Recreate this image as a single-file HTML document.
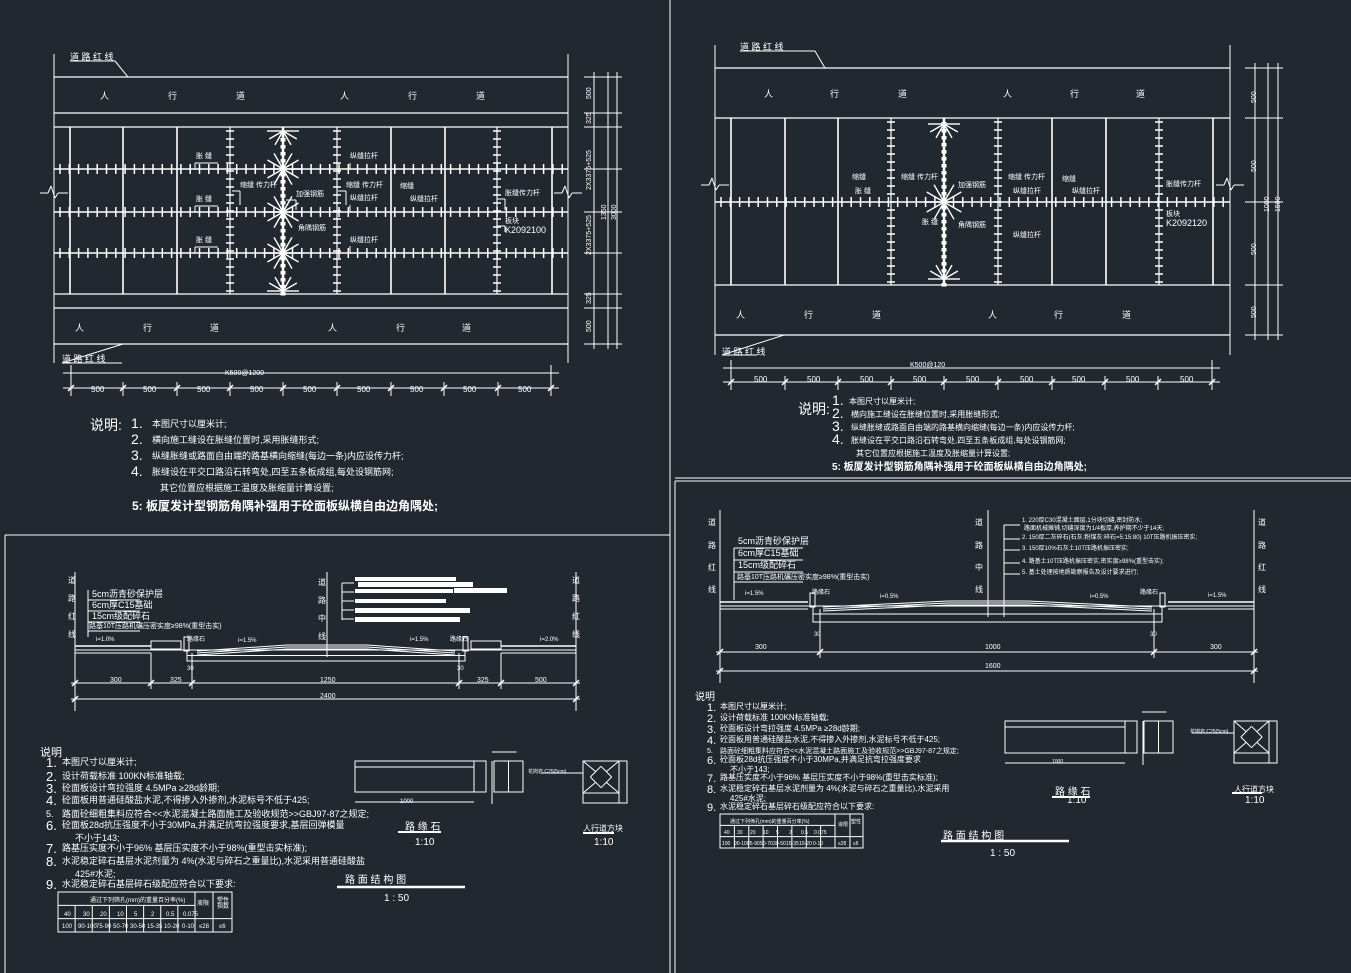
<!DOCTYPE html>
<html><head><meta charset="utf-8"><style>
html,body{margin:0;padding:0;background:#212830;}
svg{display:block}
text{fill:#fff;font-family:"Liberation Sans","Noto Sans CJK SC",sans-serif;}
.s{stroke:#fff;fill:none;stroke-width:1}
.b{stroke:#fff;fill:none;stroke-width:1.6}
</style></head><body>
<svg id="v" width="1351" height="973" viewBox="0 0 1351 973" xmlns="http://www.w3.org/2000/svg">
<g class="s">
<!-- frames -->
<line x1="670" y1="0" x2="670" y2="973"/>
<line x1="5" y1="535" x2="670" y2="535"/>
<line x1="5" y1="535" x2="5" y2="973"/>
<line x1="675" y1="478" x2="1351" y2="478"/>
<line x1="675" y1="481" x2="1351" y2="481"/>
<line x1="675" y1="481" x2="675" y2="973"/>
</g>
<g id="g" class="s"></g>

<!-- TOP LEFT text -->
<g font-size="9">
<text x="70" y="60">道 路 红 线</text>
<text x="62" y="362">道 路 红 线</text>
<text x="100" y="99">人</text><text x="168" y="99">行</text><text x="236" y="99">道</text>
<text x="340" y="99">人</text><text x="408" y="99">行</text><text x="476" y="99">道</text>
<text x="75" y="331">人</text><text x="143" y="331">行</text><text x="210" y="331">道</text>
<text x="328" y="331">人</text><text x="396" y="331">行</text><text x="462" y="331">道</text>
</g>
<g font-size="7">
<text x="196" y="158">胀 缝</text><text x="196" y="201">胀 缝</text><text x="196" y="242">胀 缝</text>
<text x="240" y="187">缩缝 传力杆</text><text x="346" y="187">缩缝 传力杆</text>
<text x="296" y="196">加强钢筋</text><text x="298" y="230">角隅钢筋</text>
<text x="350" y="158">纵缝拉杆</text><text x="350" y="200">纵缝拉杆</text><text x="350" y="242">纵缝拉杆</text>
<text x="400" y="188">缩缝</text><text x="410" y="201">纵缝拉杆</text>
<text x="505" y="195">胀缝传力杆</text>
<text x="505" y="223">板块</text><text x="505" y="233" font-size="9">K2092100</text>
<text x="225" y="375">K500@1200</text>
</g>
<g font-size="8">
<text x="91" y="392">500</text><text x="143" y="392">500</text><text x="197" y="392">500</text><text x="250" y="392">500</text><text x="303" y="392">500</text><text x="357" y="392">500</text><text x="410" y="392">500</text><text x="463" y="392">500</text><text x="518" y="392">500</text>
</g>
<g font-size="7">
<text transform="translate(591,99) rotate(-90)">500</text>
<text transform="translate(591,124) rotate(-90)">325</text>
<text transform="translate(591,190) rotate(-90)">2X3375+525</text>
<text transform="translate(591,255) rotate(-90)">2X3375+525</text>
<text transform="translate(591,304) rotate(-90)">325</text>
<text transform="translate(591,332) rotate(-90)">500</text>
<text transform="translate(606,220) rotate(-90)">1350</text>
<text transform="translate(616,220) rotate(-90)">3000</text>
</g>
<g font-size="14">
<text x="90" y="430">说明:</text>
<text x="131" y="428">1.</text><text x="131" y="444">2.</text><text x="131" y="460">3.</text><text x="131" y="476">4.</text>
</g>
<g font-size="9">
<text x="152" y="427">本图尺寸以厘米计;</text>
<text x="152" y="443">横向施工缝设在胀缝位置时,采用胀缝形式;</text>
<text x="152" y="459">纵缝胀缝或路面自由端的路基横向缩缝(每边一条)内应设传力杆;</text>
<text x="152" y="475">胀缝设在平交口路沿石转弯处,四至五条板成组,每处设钢筋网;</text>
<text x="160" y="491">其它位置应根据施工温度及胀缩量计算设置;</text>
</g>
<text x="132" y="510" font-size="12" font-weight="bold">5:  板厦发计型钢筋角隅补强用于砼面板纵横自由边角隅处;</text>

<!-- TOP RIGHT text -->
<g font-size="9">
<text x="740" y="50">道 路 红 线</text>
<text x="722" y="355">道 路 红 线</text>
<text x="764" y="97">人</text><text x="830" y="97">行</text><text x="898" y="97">道</text>
<text x="1003" y="97">人</text><text x="1070" y="97">行</text><text x="1136" y="97">道</text>
<text x="736" y="318">人</text><text x="804" y="318">行</text><text x="872" y="318">道</text>
<text x="988" y="318">人</text><text x="1054" y="318">行</text><text x="1122" y="318">道</text>
</g>
<g font-size="7">
<text x="852" y="179">缩缝</text><text x="855" y="193">胀 缝</text>
<text x="901" y="179">缩缝 传力杆</text><text x="958" y="187">加强钢筋</text>
<text x="922" y="224">胀 缝</text><text x="958" y="227">角隅钢筋</text>
<text x="1008" y="179">缩缝 传力杆</text><text x="1013" y="193">纵缝拉杆</text><text x="1013" y="237">纵缝拉杆</text>
<text x="1062" y="181">缩缝</text><text x="1072" y="193">纵缝拉杆</text>
<text x="1166" y="186">胀缝传力杆</text>
<text x="1166" y="216">板块</text><text x="1166" y="226" font-size="9">K2092120</text>
<text x="910" y="367">K500@120</text>
</g>
<g font-size="8">
<text x="754" y="382">500</text><text x="807" y="382">500</text><text x="860" y="382">500</text><text x="913" y="382">500</text><text x="966" y="382">500</text><text x="1020" y="382">500</text><text x="1072" y="382">500</text><text x="1126" y="382">500</text><text x="1180" y="382">500</text>
</g>
<g font-size="7">
<text transform="translate(1256,103) rotate(-90)">500</text>
<text transform="translate(1256,172) rotate(-90)">500</text>
<text transform="translate(1256,255) rotate(-90)">500</text>
<text transform="translate(1256,318) rotate(-90)">500</text>
<text transform="translate(1269,212) rotate(-90)">1000</text>
<text transform="translate(1280,212) rotate(-90)">1500</text>
</g>
<g font-size="14">
<text x="798" y="414">说明:</text>
<text x="832" y="405">1.</text><text x="832" y="418">2.</text><text x="832" y="431">3.</text><text x="832" y="444">4.</text>
</g>
<g font-size="8">
<text x="849" y="404">本图尺寸以厘米计;</text>
<text x="851" y="417">横向施工缝设在胀缝位置时,采用胀缝形式;</text>
<text x="851" y="430">纵缝胀缝或路面自由端的路基横向缩缝(每边一条)内应设传力杆;</text>
<text x="851" y="443">胀缝设在平交口路沿石转弯处,四至五条板成组,每处设钢筋网;</text>
<text x="856" y="456">其它位置应根据施工温度及胀缩量计算设置;</text>
</g>
<text x="832" y="470" font-size="10" font-weight="bold">5:  板厦发计型钢筋角隅补强用于砼面板纵横自由边角隅处;</text>

<!-- BOTTOM LEFT text -->
<g font-size="8">
<text x="68" y="583">道</text><text x="68" y="601">路</text><text x="68" y="619">红</text><text x="68" y="637">线</text>
<text x="572" y="583">道</text><text x="572" y="601">路</text><text x="572" y="619">红</text><text x="572" y="637">线</text>
<text x="318" y="585">道</text><text x="318" y="603">路</text><text x="318" y="621">中</text><text x="318" y="639">线</text>
</g>
<g font-size="9">
<text x="92" y="597">5cm沥青砂保护层</text>
<text x="92" y="608">6cm厚C15基础</text>
<text x="92" y="619">15cm级配碎石</text>
<text x="89" y="628" font-size="7">路基10T压路机碾压密实度≥98%(重型击实)</text>
</g>
<g font-size="6">
<text x="96" y="641">i=1.0%</text><text x="238" y="642">i=1.5%</text><text x="410" y="641">i=1.5%</text><text x="540" y="641">i=2.0%</text>
<text x="187" y="641">路缘石</text><text x="450" y="641">路缘石</text>
<text x="187" y="670">30</text><text x="457" y="670">30</text>
</g>
<g font-size="7">
<text x="110" y="682">300</text><text x="170" y="682">325</text><text x="320" y="682">1250</text><text x="477" y="682">325</text><text x="535" y="682">500</text>
<text x="320" y="698">2400</text>
</g>
<g font-size="9">
<text x="40" y="756" font-size="11">说明</text>
<text x="46" y="767" font-size="13">1.</text><text x="62" y="765">本图尺寸以厘米计;</text>
<text x="46" y="781" font-size="13">2.</text><text x="62" y="779">设计荷载标准 100KN标准轴载;</text>
<text x="46" y="793" font-size="13">3.</text><text x="62" y="791">砼面板设计弯拉强度 4.5MPa  ≥28d龄期;</text>
<text x="46" y="805" font-size="13">4.</text><text x="62" y="803">砼面板用普通硅酸盐水泥,不得掺入外掺剂,水泥标号不低于425;</text>
<text x="46" y="817">5.</text><text x="62" y="817">路面砼细粗集料应符合&lt;&lt;水泥混凝土路面施工及验收规范&gt;&gt;GBJ97-87之规定;</text>
<text x="46" y="830" font-size="13">6.</text><text x="62" y="828">砼面板28d抗压强度不小于30MPa,并满足抗弯拉强度要求,基层回弹模量</text>
<text x="75" y="841">不小于143;</text>
<text x="46" y="853" font-size="13">7.</text><text x="62" y="851">路基压实度不小于96%  基层压实度不小于98%(重型击实标准);</text>
<text x="46" y="866" font-size="13">8.</text><text x="62" y="864">水泥稳定碎石基层水泥剂量为 4%(水泥与碎石之重量比),水泥采用普通硅酸盐</text>
<text x="75" y="877">425#水泥;</text>
<text x="46" y="889" font-size="13">9.</text><text x="62" y="887">水泥稳定碎石基层碎石级配应符合以下要求:</text>
</g>
<g font-size="6">
<text x="90" y="902">通过下列筛孔(mm)的重量百分率(%)</text><text x="197" y="905">液限</text><text x="217" y="902">塑性</text><text x="217" y="908">指数</text>
<text x="64" y="916">40</text><text x="83" y="916">30</text><text x="100" y="916">20</text><text x="117" y="916">10</text><text x="134" y="916">5</text><text x="151" y="916">2</text><text x="166" y="916">0.5</text><text x="183" y="916">0.075</text>
<text x="62" y="928">100</text><text x="78" y="928">90-100</text><text x="96" y="928">75-90</text><text x="113" y="928">50-70</text><text x="130" y="928">30-50</text><text x="147" y="928">15-35</text><text x="164" y="928">10-20</text><text x="182" y="928">0-10</text><text x="199" y="928">≤28</text><text x="219" y="928">≤6</text>
</g>
<g font-size="10">
<text x="405" y="830">路 缘 石</text><text x="415" y="845">1:10</text>
<text x="583" y="831" font-size="8">人行道方块</text><text x="594" y="845">1:10</text>
<text x="345" y="883">路  面  结  构  图</text><text x="384" y="901">1 : 50</text>
<text x="400" y="803" font-size="6">1000</text><text x="528" y="773" font-size="5">花岗岩 C25(5cm)</text>
</g>

<!-- BOTTOM RIGHT text -->
<g font-size="8">
<text x="708" y="525">道</text><text x="708" y="548">路</text><text x="708" y="570">红</text><text x="708" y="592">线</text>
<text x="1258" y="525">道</text><text x="1258" y="548">路</text><text x="1258" y="570">红</text><text x="1258" y="592">线</text>
<text x="975" y="525">道</text><text x="975" y="548">路</text><text x="975" y="570">中</text><text x="975" y="592">线</text>
</g>
<g font-size="6">
<text x="1022" y="522">1. 220厚C30混凝土面层,1分块切缝,密封防水;</text>
<text x="1024" y="530">路面机械摊铺,切缝深度为1/4板厚,养护期不少于14天;</text>
<text x="1022" y="539">2. 150厚二灰碎石(石灰:粉煤灰:碎石=5:15:80) 10T压路机振压密实;</text>
<text x="1022" y="550">3. 150厚10%石灰土10T压路机振压密实;</text>
<text x="1022" y="563">4. 路基土10T压路机振压密实,密实度≥98%(重型击实);</text>
<text x="1022" y="574">5. 基土处理按地质勘察报告及设计要求进行;</text>
</g>
<g font-size="9">
<text x="738" y="544">5cm沥青砂保护层</text>
<text x="738" y="556">6cm厚C15基础</text>
<text x="738" y="568">15cm级配碎石</text>
<text x="737" y="579" font-size="7">路基10T压路机碾压密实度≥98%(重型击实)</text>
</g>
<g font-size="6">
<text x="745" y="595">i=1.5%</text><text x="880" y="598">i=0.5%</text><text x="1090" y="598">i=0.5%</text><text x="1208" y="597">i=1.5%</text>
<text x="812" y="594">路缘石</text><text x="1140" y="594">路缘石</text>
<text x="814" y="636">30</text><text x="1150" y="636">30</text>
</g>
<g font-size="7">
<text x="755" y="649">300</text><text x="985" y="649">1000</text><text x="1210" y="649">300</text>
<text x="985" y="668">1600</text>
</g>
<g font-size="8">
<text x="695" y="700" font-size="10">说明</text>
<text x="707" y="711" font-size="11">1.</text><text x="720" y="709">本图尺寸以厘米计;</text>
<text x="707" y="722" font-size="11">2.</text><text x="720" y="720">设计荷载标准 100KN标准轴载;</text>
<text x="707" y="733" font-size="11">3.</text><text x="720" y="731">砼面板设计弯拉强度 4.5MPa  ≥28d龄期;</text>
<text x="707" y="744" font-size="11">4.</text><text x="720" y="742">砼面板用普通硅酸盐水泥,不得掺入外掺剂,水泥标号不低于425;</text>
<text x="707" y="753" font-size="7">5.</text><text x="720" y="753" font-size="7">路面砼细粗集料应符合&lt;&lt;水泥混凝土路面施工及验收规范&gt;&gt;GBJ97-87之规定;</text>
<text x="707" y="764" font-size="11">6.</text><text x="720" y="762">砼面板28d抗压强度不小于30MPa,并满足抗弯拉强度要求</text>
<text x="730" y="772">不小于143;</text>
<text x="707" y="782" font-size="11">7.</text><text x="720" y="780">路基压实度不小于96%  基层压实度不小于98%(重型击实标准);</text>
<text x="707" y="793" font-size="11">8.</text><text x="720" y="791">水泥稳定碎石基层水泥剂量为 4%(水泥与碎石之重量比),水泥采用</text>
<text x="730" y="801">425#水泥;</text>
<text x="707" y="811" font-size="11">9.</text><text x="720" y="809">水泥稳定碎石基层碎石级配应符合以下要求:</text>
</g>
<g font-size="5">
<text x="730" y="823">通过下列筛孔(mm)的重量百分率(%)</text><text x="838" y="826">液限</text><text x="851" y="823">塑性</text>
<text x="724" y="834">40</text><text x="737" y="834">30</text><text x="750" y="834">20</text><text x="763" y="834">10</text><text x="776" y="834">5</text><text x="789" y="834">2</text><text x="801" y="834">0.5</text><text x="814" y="834">0.075</text>
<text x="722" y="845">100</text><text x="734" y="845">90-100</text><text x="747" y="845">75-90</text><text x="760" y="845">50-70</text><text x="773" y="845">30-50</text><text x="786" y="845">15-35</text><text x="799" y="845">10-20</text><text x="813" y="845">0-10</text><text x="838" y="845">≤28</text><text x="853" y="845">≤6</text>
</g>
<g font-size="10">
<text x="1055" y="795">路 缘 石</text><text x="1067" y="803">1:10</text>
<text x="1234" y="792" font-size="8">人行道方块</text><text x="1245" y="803">1:10</text>
<text x="943" y="839">路  面  结  构  图</text><text x="990" y="856">1 : 50</text>
<text x="1052" y="763" font-size="5">1000</text><text x="1190" y="733" font-size="5">花岗岩 C25(5cm)</text>
</g>
</svg>
<script>
(function(){
var g=document.getElementById('g'),ns='http://www.w3.org/2000/svg';
function L(a,b,c,d,w){var e=document.createElementNS(ns,'line');e.setAttribute('x1',a);e.setAttribute('y1',b);e.setAttribute('x2',c);e.setAttribute('y2',d);if(w)e.setAttribute('stroke-width',w);g.appendChild(e);}
function R(x,y,w,h,f){var e=document.createElementNS(ns,'rect');e.setAttribute('x',x);e.setAttribute('y',y);e.setAttribute('width',w);e.setAttribute('height',h);if(f){e.setAttribute('fill','#fff');e.setAttribute('stroke','none');}g.appendChild(e);}
function star(cx,cy,r,dir){for(var i=0;i<12;i++){var a=i*Math.PI/6;if(dir==1&&Math.sin(a)<-0.1)continue;if(dir==-1&&Math.sin(a)>0.1)continue;L(cx,cy,cx+r*Math.cos(a),cy+r*Math.sin(a),1.4);}}
function plan(o){
 var x0=o.x0,x1=o.x1;
 L(x0,o.vt,x0,o.vb);L(x1,o.vt,x1,o.vb);
 o.h.forEach(function(y){L(x0,y,x1,y,1.2);});
 o.v.forEach(function(x){L(x,o.rt,x,o.rb,1.6);});
 o.j.forEach(function(y){L(x0,y,x1,y,1.6);for(var x=x0+6;x<x1;x+=9.3)L(x,y-5,x,y+5,1.5);});
 o.d.forEach(function(x){L(x,o.rt,x,o.rb,1.2);for(var y=o.rt+4;y<o.rb;y+=8)L(x-4,y,x+4,y,1.5);});
 var c=o.c;L(c,o.rt,c,o.rb,2.5);for(var y=o.rt+4;y<o.rb;y+=7)R(c-2.5,y,5,3.5,1);
 o.s.forEach(function(p){star(c,p[0],p[1],p[2]);});
 // zigzag breaks
 var my=o.zy;[x0,x1].forEach(function(x){L(x-14,my,x-6,my,1);L(x-6,my,x-3,my-7);L(x-3,my-7,x+1,my+5);L(x+1,my+5,x+4,my);L(x+4,my,x+14,my);});
 // bottom dims
 L(o.t[0]-8,o.dy1,o.t[o.t.length-1]+8,o.dy1);L(o.t[0]-8,o.dy2,o.t[o.t.length-1]+8,o.dy2);
 L(o.t[0],o.dy1-8,o.t[0],o.dy2+8);L(o.t[o.t.length-1],o.dy1-8,o.t[o.t.length-1],o.dy2+8);
 o.t.forEach(function(x){L(x,o.dy2-6,x,o.dy2+8);L(x-3,o.dy2+3,x+3,o.dy2-3,1.5);});
 // right dims
 o.rx.forEach(function(x){L(x,o.rd[0]-5,x,o.rd[o.rd.length-1]+5);});
 o.rd.forEach(function(y){L(o.rx[0]-10,y,o.rx[o.rx.length-1]+5,y);});
 // leaders
 L(o.lab[0],o.lab[1],o.lab[2],o.lab[1]);L(o.lab[2],o.lab[1],o.lab[3],o.lab[4]);
 L(o.lab2[0],o.lab2[1],o.lab2[2],o.lab2[1]);L(o.lab2[0],o.lab2[1],o.lab2[3],o.lab2[4]);
}
plan({x0:54,x1:568,vt:54,vb:363,h:[77,113,127,294,308,344],rt:127,rb:294,v:[70,123,177,391,445,552],j:[169,212,253],d:[230,337,497],c:283,
 s:[[131,16,1],[169,18,0],[212,18,0],[253,18,0],[291,16,-1]],zy:193,t:[71,123,177,230,283,337,391,444,498,551],dy1:373,dy2:388,
 rx:[594,608,617],rd:[77,113,127,169,212,253,294,308,344],lab:[70,61,115,128,77],lab2:[62,363,122,123,344]});
plan({x0:715,x1:1230,vt:45,vb:355,h:[68,118,285,335],rt:118,rb:285,v:[731,785,838,1052,1106,1213],j:[202],d:[891,998,1159],c:944,
 s:[[124,16,1],[202,20,0],[279,16,-1]],zy:185,t:[731,785,838,891,944,998,1052,1105,1158,1212],dy1:368,dy2:382,
 rx:[1255,1268,1278],rd:[68,118,202,285,335],lab:[740,51,815,825,68],lab2:[722,355,757,784,335]});
// starburst side detail ticks on center
// small leader lines top-left
[[195,163,218,169],[195,206,218,212],[195,247,218,253],[240,191,232,205],[346,191,338,205],[296,200,286,210],[350,163,350,169],[350,205,350,212],[350,246,350,253],[505,199,497,210],[505,226,497,232]].forEach(function(a){L(a[0],a[1],a[2],a[1]);L(a[0],a[1],a[0]>a[2]?a[0]:a[0],a[3]);});
// SECTION helper
function section(o){
 L(o.l,o.gy-1,o.cl,o.gy-1,1.5);L(o.cr,o.gy-1,o.r,o.gy-1,1.5);
 L(o.l,o.gy+3,o.r,o.gy+3);L(o.l,o.gy+6,o.cl,o.gy+6);L(o.cr,o.gy+6,o.r,o.gy+6);
 L(o.l,o.vt,o.l,o.vb);L(o.r,o.vt,o.r,o.vb);L(o.c,o.ct,o.c,o.cb);
 R(o.tl,o.gy+3,o.tr-o.tl,o.th);L(o.tl,o.gy+3+o.th/2,o.tr,o.gy+3+o.th/2);
 // crown layers
 for(var k=0;k<3;k++){L(o.tl+10,o.gy+4+k*2,o.c-40,o.gy-2+k*2);L(o.c-40,o.gy-2+k*2,o.c+40,o.gy-2+k*2);L(o.c+40,o.gy-2+k*2,o.tr-10,o.gy+4+k*2);}
 R(o.tl-3,o.gy-10,5,14);R(o.tr-2,o.gy-10,5,14);
 R(o.cl,o.gy-6,o.cw,8);R(o.cr-o.cw,o.gy-6,o.cw,8);
 L(o.l-4,o.d1,o.r+4,o.d1);L(o.l-4,o.d2,o.r+4,o.d2);
 o.tk.forEach(function(x){L(x,o.gy+6,x,o.d1+6);L(x-3,o.d1+3,x+3,o.d1-3,1.5);});
 L(o.l-3,o.d2+3,o.l+3,o.d2-3,1.5);L(o.r-3,o.d2+3,o.r+3,o.d2-3,1.5);
}
section({l:75,r:576,gy:647,c:327,vt:572,vb:711,ct:572,cb:657,tl:187,tr:465,th:11,cl:151,cr:501,cw:30,d1:683,d2:699,tk:[75,151,192,459,501,576]});
section({l:720,r:1254,gy:603,c:988,vt:510,vb:683,ct:510,cb:617,tl:813,tr:1162,th:16,cl:808,cr:1168,cw:0,d1:652,d2:671,tk:[720,820,1154,1254]});
// legend left section
[[355,577,101,4],[358,582,115,5],[355,589,98,4],[454,588,53,5],[355,599,91,4],[355,608,115,5],[355,617,105,5]].forEach(function(a){R(a[0],a[1],a[2],a[3],1);});
L(342,583,342,620);[583,592,601,610,619].forEach(function(y){L(342,y,354,y);});
L(1004,525,1004,617);[525,539,550,563,574].forEach(function(y){L(1004,y,1020,y);});
// layer label boxes
L(88,590,88,637);[600,611,622,631].forEach(function(y){L(88,y,140,y);});
L(734,548,734,600);[548,560,572,582].forEach(function(y){L(734,y,803,y);});
// curbstone details
function curb(x,y,w,h,sx,sw,px,pw,ph){R(x,y,w,h);L(x,y+6,x+w-12,y+6);L(x+w-12,y,x+w-12,y+h);L(x,y+h+10,x+w-12,y+h+10);L(x+w+6,y,x+w+6,y+h+12);
 R(sx,y,sw,h);L(sx+sw/2,y,sx+sw/2,y+h);L(sx-2,y-9,sx+sw/2+8,y-9);
 R(px,y,pw,ph);L(px+pw-8,y,px+pw-8,ph+y);L(px,ph+y-10,px+pw-8,ph+y-10);
 var cx=px+(pw-8)/2,cy=y+(ph-10)/2,r=Math.min(pw-8,ph-10)/3;
 L(cx-r,cy,cx,cy-r);L(cx,cy-r,cx+r,cy);L(cx+r,cy,cx,cy+r);L(cx,cy+r,cx-r,cy);
 L(px,y,cx-r/2,cy-r/2);L(px+pw-8,y,cx+r/2,cy-r/2);L(px,ph+y-10,cx-r/2,cy+r/2);L(px+pw-8,ph+y-10,cx+r/2,cy+r/2);
 L(px-42,cy-4,px,cy-4);}
curb(355,761,131,31,494,29,583,44,42);
curb(1005,721,132,32,1144,29,1234,43,42);
// scale title underlines
L(398,832,441,832,2);L(583,833,614,833,2);L(337,887,465,887,2.5);
L(1052,797,1090,797,2);L(1232,793,1262,793,2);L(941,841,1069,841,2.5);
// tables
function table(x,y,w,h,cols,split,sp2){R(x,y,w,h);L(x,y+h/3,x+split,y+h/3);L(x,y+2*h/3,x+w,y+2*h/3);L(x+split,y,x+split,y+h);L(x+sp2,y,x+sp2,y+h);for(var i=1;i<8;i++){var cx=x+i*split/8;L(cx,y+h/3,cx,y+h);}}
table(58,892,174,40,0,137,155);
table(720,814,143,34,0,115,130);
})();
</script>
</body></html>
